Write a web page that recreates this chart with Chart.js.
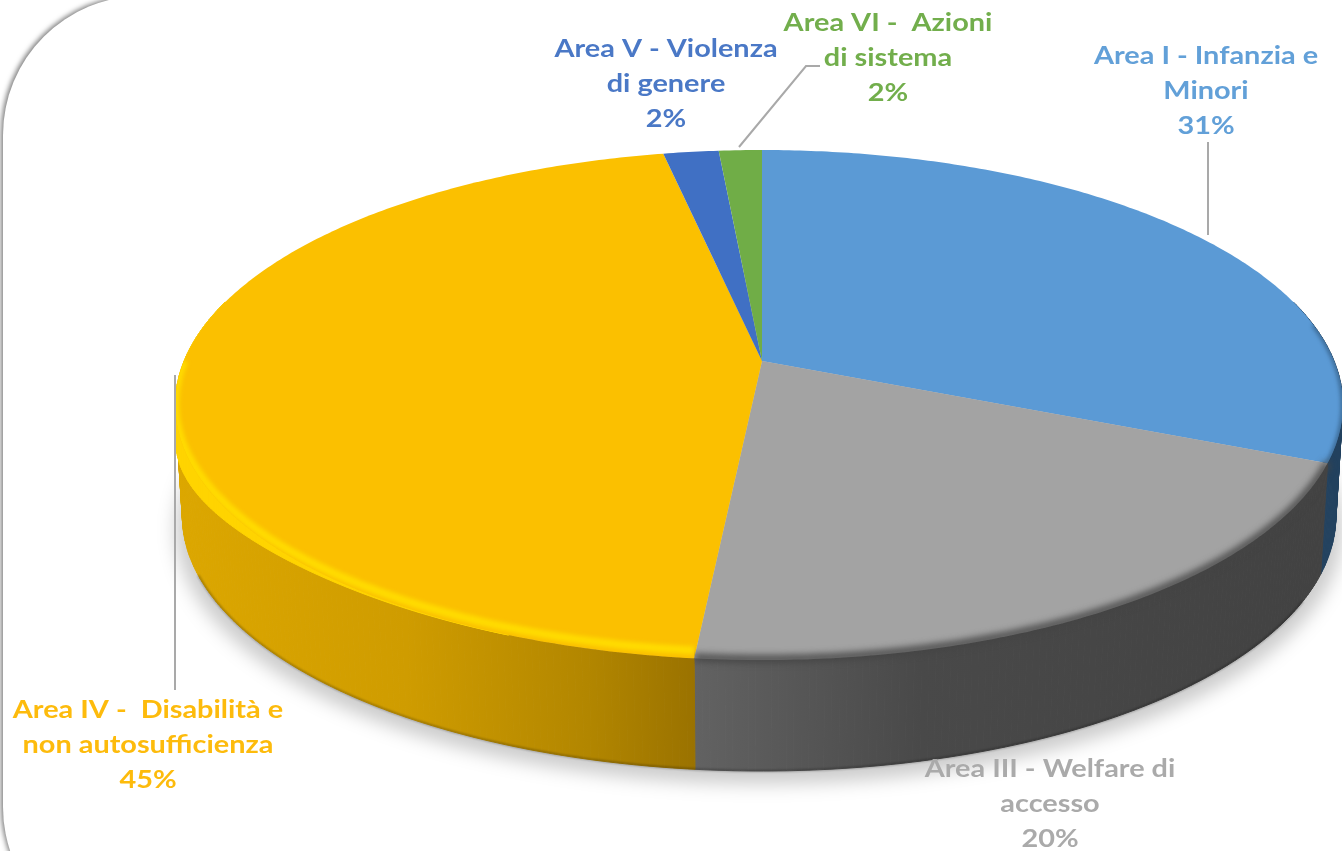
<!DOCTYPE html>
<html lang="it">

<head>
  <meta charset="UTF-8" />
  <title>Aree di intervento</title>
  <script src="https://cdn.jsdelivr.net/npm/chart.js"></script>
  <style>
    html, body { margin: 0; padding: 0; background: #fff; overflow: hidden; }
    #page { position: relative; width: 1342px; height: 851px; overflow: hidden; }
    #frame {
      position: absolute; left: 3px; top: -4px; width: 1600px; height: 950px;
      border-radius: 139px; background: #fff; box-shadow: -2px -1px 5px rgba(0, 0, 0, .5);
    }
    #pie { position: absolute; left: 0; top: 0; filter: blur(.6px); }
  </style>
</head>

<body>
  <div id="page">
    <div id="frame"></div>
    <canvas id="pie" width="1342" height="851"></canvas>
  </div>

  <script>
    // dati
    const categories = ['Area I - Infanzia e Minori', 'Area III - Welfare di accesso', 'Area IV - Disabilità e non autosufficienza', 'Area V - Violenza di genere', 'Area VI - Azioni di sistema'];
    const values = [31.3, 20.25, 45.25, 1.8, 1.4];
    const labelLines = [
      ['Area I - Infanzia e', 'Minori', '31%'],
      ['Area III - Welfare di', 'accesso', '20%'],
      ['Area IV -  Disabilità e', 'non autosufficienza', '45%'],
      ['Area V - Violenza', 'di genere', '2%'],
      ['Area VI -  Azioni', 'di sistema', '2%']
    ];
    const colors = ['#5b9ad5', '#a3a3a3', '#fbc000', '#4070c4', '#70ad47'];
    const textColors = ['#62a0d8', '#aaaaaa', '#fdbb0c', '#4a78c6', '#72ae4c'];

    // prospettiva del disco
    const view = { cx: 762, cy: 361, R: 575, S: 247.4, k: 0.1726, depth: 111, shrink: 0.988 };
    const labelPos = [[1206, 56], [1050, 769], [148, 710], [666, 49], [888, 23]];
    const leaders = [
      [[1208, 142], [1208, 235]],
      [[820, 66], [806, 66], [739, 147]],
      [[175, 375], [175, 690]]
    ];

    function top3d(a, lift = 0) {
      const u = Math.cos(a), v = Math.sin(a);
      const w = 1 - view.k * v;
      const side = u > 0 ? 0.995 : 1.005;
      return [view.cx + view.R * side * u / w, view.cy + view.S * v / w - lift * Math.max(v, 0)];
    }
    function bottom3d(a) {
      const p = top3d(a);
      return [view.cx + (p[0] - view.cx) * view.shrink, p[1] + view.depth];
    }
    function sample(a0, a1, fn) {
      const pts = [];
      const n = Math.max(4, Math.ceil((a1 - a0) * 90));
      for (let i = 0; i <= n; i++) pts.push(fn(a0 + (a1 - a0) * i / n));
      return pts;
    }
    function trace(ctx, pts, close) {
      ctx.beginPath();
      pts.forEach((p, i) => i ? ctx.lineTo(p[0], p[1]) : ctx.moveTo(p[0], p[1]));
      if (close) ctx.closePath();
    }
    // riempie la fascia fra due bordi a piccoli quadrilateri, così resta piena anche sul lato sinistro
    function band(ctx, upper, lower, fill) {
      ctx.fillStyle = fill;
      ctx.strokeStyle = fill;
      ctx.lineWidth = 1;
      for (let i = 0; i < upper.length - 1; i++) {
        trace(ctx, [upper[i], upper[i + 1], lower[i + 1], lower[i]], true);
        ctx.fill();
        ctx.stroke();
      }
    }
    function rimFill(ctx, i) {
      if (i === 0) return '#23425f';
      const g = ctx.createLinearGradient(178, 0, 1320, 0);
      if (i === 2) {
        g.addColorStop(0, '#dca700');
        g.addColorStop(0.2, '#cf9c00');
        g.addColorStop(0.36, '#b28600');
        g.addColorStop(0.453, '#9a7200');
        g.addColorStop(1, '#9a7200');
        return g;
      }
      g.addColorStop(0, '#626262');
      g.addColorStop(0.453, '#626262');
      g.addColorStop(0.65, '#494949');
      g.addColorStop(1, '#424242');
      return g;
    }

    const pie3d = {
      id: 'pie3d',
      beforeDatasetDraw(chart) {
        const ctx = chart.ctx;
        const arcs = chart.getDatasetMeta(0).data;

        // ombra sotto il disco
        ctx.save();
        ctx.filter = 'blur(9px)';
        ctx.fillStyle = 'rgba(0, 0, 0, .2)';
        trace(ctx, sample(0, Math.PI * 2, a => {
          const p = bottom3d(a);
          return [view.cx + (p[0] - view.cx) * 1.012, p[1] + 13];
        }), true);
        ctx.fill();
        ctx.restore();

        // bordo laterale, solo la parte anteriore del disco
        arcs.slice(0, 3).forEach((arc, i) => {
          const a0 = Math.max(arc.startAngle, -0.25);
          const a1 = Math.min(arc.endAngle, Math.PI + 0.25);
          const edge = sample(a0, a1, a => top3d(a));
          const low = sample(a0, a1, a => bottom3d(a));
          band(ctx, edge, low, rimFill(ctx, i));
        });

        // linea scura in fondo al bordo
        ctx.save();
        ctx.filter = 'blur(1px)';
        ctx.strokeStyle = 'rgba(0, 0, 0, .3)';
        ctx.lineWidth = 2;
        trace(ctx, sample(0.5, Math.PI - 0.4, a => bottom3d(a)));
        ctx.stroke();
        ctx.restore();

        // raccordo giallo sul lato sinistro, tra faccia e bordo
        const bulge = a => {
          const p = top3d(a);
          const f = Math.max(0, -Math.cos(a));
          return [p[0], p[1] + 36 * Math.pow(f, 6)];
        };
        band(ctx, sample(Math.PI * 0.62, Math.PI * 1.08, a => top3d(a)), sample(Math.PI * 0.62, Math.PI * 1.08, bulge), '#ffd400');

        // faccia superiore
        arcs.forEach((arc) => {
          const edge = sample(arc.startAngle, arc.endAngle, a => top3d(a));
          ctx.fillStyle = arc.options.backgroundColor;
          trace(ctx, [[view.cx, view.cy]].concat(edge), true);
          ctx.fill();
        });

        // smussatura lungo il bordo anteriore: colore, spessore, rientro, sfocatura
        const bevel = [['#2d5478', 3, 0.5, 2], ['#444444', 7, 1, 3.5], ['#ffdb00', 8, 8, 2]];
        arcs.slice(0, 3).forEach((arc, i) => {
          const a0 = Math.max(arc.startAngle, -0.15);
          const a1 = Math.min(arc.endAngle, Math.PI);
          if (a1 <= a0) return;
          ctx.save();
          if (i === 1) {
            // il grigio sfuma anche oltre il bordo, ma non sul giallo
            const xLeft = top3d(arc.endAngle)[0];
            ctx.beginPath();
            ctx.rect(xLeft, 300, 700, 551);
          } else {
            trace(ctx, [[view.cx, view.cy]].concat(sample(arc.startAngle, arc.endAngle, a => top3d(a))), true);
          }
          ctx.clip();
          ctx.filter = 'blur(' + bevel[i][3] + 'px)';
          ctx.strokeStyle = bevel[i][0];
          ctx.lineWidth = bevel[i][1];
          trace(ctx, sample(a0, a1, a => top3d(a, bevel[i][2])));
          ctx.stroke();
          ctx.restore();
        });
        return false;
      },
      afterDraw(chart) {
        const ctx = chart.ctx;
        ctx.save();
        ctx.strokeStyle = '#a9a9a9';
        ctx.lineWidth = 2;
        leaders.forEach(l => {
          trace(ctx, l);
          ctx.stroke();
        });
        ctx.font = 'bold 25px Lato';
        ctx.textAlign = 'center';
        ctx.textBaseline = 'middle';
        labelLines.forEach((lines, i) => {
          ctx.fillStyle = textColors[i];
          lines.forEach((t, j) => {
            // il testo originale è allargato in orizzontale
            ctx.save();
            ctx.translate(labelPos[i][0], labelPos[i][1] + j * 35);
            ctx.scale(1.155, 1);
            ctx.fillText(t, 0, 0);
            ctx.restore();
          });
        });
        ctx.restore();
      }
    };

    new Chart(document.getElementById('pie'), {
      type: 'pie',
      data: {
        labels: categories,
        datasets: [{ data: values, backgroundColor: colors, borderWidth: 0 }]
      },
      options: {
        responsive: false,
        animation: false,
        plugins: { legend: { display: false }, tooltip: { enabled: false } }
      },
      plugins: [pie3d]
    });
  </script>
</body>

</html>
